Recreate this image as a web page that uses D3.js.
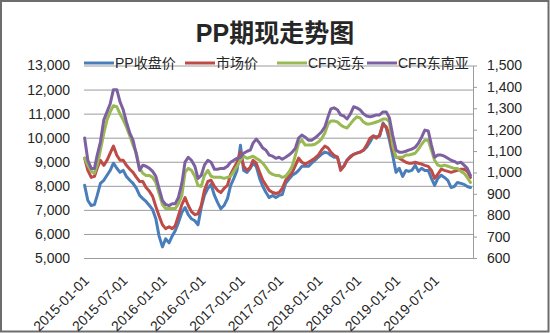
<!DOCTYPE html>
<html>
<head>
<meta charset="utf-8">
<script src="https://cdn.jsdelivr.net/npm/d3@7"></script>
<style>
  body { margin: 0; background: #fff; }
  svg { display: block; }
  text { font-family: "Liberation Sans", "Noto Sans CJK SC", sans-serif; fill: #262626; }
</style>
</head>
<body>
<svg id="chart" width="550" height="333"></svg>
<script>
// ---- data ----
const chartTitle = "PP期现走势图";
const seriesNames = ["PP收盘价", "市场价", "CFR远东", "CFR东南亚"];
const leftTicks = [5000, 6000, 7000, 8000, 9000, 10000, 11000, 12000, 13000];
const rightTicks = [600, 700, 800, 900, 1000, 1100, 1200, 1300, 1400, 1500];
const dateTicks = ["2015-01-01", "2015-07-01", "2016-01-01", "2016-07-01", "2017-01-01",
                   "2017-07-01", "2018-01-01", "2018-07-01", "2019-01-01", "2019-07-01"];
// two readings per month, on the 4th and the 19th, Jan 2015 - Dec 2019
const sampleDays = [4, 19];

// PP收盘价 (元/吨, left axis)
const ppClose = [
  8020, 7390, 7180, 7220, 7600, 8100, 8230, 8440, 8640, 8940,
  8730, 8560, 8640, 8390, 8230, 8100, 7890, 7600, 7470, 7350,
  7180, 7010, 6630, 5920, 5460, 5800, 5630, 5920, 6130, 6470,
  6890, 7100, 6800, 6630, 6550, 6380, 7100, 7600, 7890, 8060,
  7600, 7300, 7050, 7180, 7470, 8020, 8310, 8640, 9690, 8640,
  8560, 8730, 8940, 8810, 8310, 7970, 7720, 7510, 7600, 7510,
  7600, 7640, 8100, 8270, 8440, 8520, 8640, 8810, 8810, 8810,
  8940, 9060, 9190, 9310, 9400, 9360, 9270, 9190, 9190, 8730,
  8810, 9060, 9230, 9310, 9360, 9400, 9480, 9610, 9820, 10070,
  10030, 10070, 10610, 10400, 9900, 9270, 8560, 8730, 8390, 8640,
  8600, 8640, 8850, 8600, 8730, 8640, 8640, 8310, 8020, 8310,
  8440, 8350, 8230, 7930, 7970, 8140, 8100, 8060, 7970, 7930
];
// 市场价 (元/吨, left axis)
const marketPrice = [
  9150, 8640, 8350, 8390, 8730, 9060, 8850, 9060, 9360, 9650,
  9270, 9060, 9060, 8850, 8690, 8560, 8350, 8180, 8180, 7930,
  7770, 7560, 7140, 6760, 6380, 6220, 6300, 6220, 6340, 6760,
  7220, 7510, 7180, 6930, 6800, 6840, 7180, 7810, 8180, 8230,
  7970, 7810, 7720, 7890, 8020, 8480, 8730, 8980, 9400, 8810,
  8640, 8770, 9060, 8940, 8560, 8230, 8020, 7810, 7720, 7680,
  7720, 7890, 8230, 8390, 8560, 8850, 9150, 8980, 8900, 8980,
  9060, 9150, 9270, 9480, 9650, 9570, 9400, 9270, 9190, 8640,
  8810, 9060, 9190, 9310, 9360, 9400, 9480, 9690, 9980, 10070,
  9980, 10110, 10570, 10450, 10110, 9480, 9190, 9150, 9060, 8980,
  8940, 8940, 8980, 8940, 8900, 8850, 8810, 8640, 8310, 8480,
  8690, 8640, 8600, 8560, 8600, 8640, 8690, 8690, 8600, 8350
];
// CFR远东 (美元/吨, right axis)
const cfrFarEast = [
  1066, 1034, 1005, 996, 1034, 1104, 1184, 1246, 1283, 1312,
  1307, 1274, 1246, 1213, 1170, 1128, 1090, 1019, 996, 986,
  986, 977, 953, 902, 850, 831, 831, 831, 831, 854,
  892, 1001, 1019, 1010, 982, 939, 935, 986, 1010, 982,
  977, 977, 977, 972, 977, 982, 1005, 1029, 1057, 1076,
  1066, 1071, 1076, 1066, 1057, 1043, 1024, 1001, 991, 986,
  986, 977, 982, 1001, 1029, 1081, 1137, 1151, 1128, 1128,
  1128, 1132, 1142, 1156, 1184, 1227, 1241, 1241, 1236, 1222,
  1213, 1208, 1227, 1246, 1260, 1255, 1236, 1227, 1227, 1231,
  1236, 1241, 1250, 1250, 1236, 1128, 1071, 1071, 1071, 1081,
  1081, 1085, 1090, 1109, 1132, 1151, 1151, 1104, 1057, 1034,
  1029, 1034, 1029, 1024, 1019, 1019, 1005, 996, 977, 953
];
// CFR东南亚 (美元/吨, right axis)
const cfrSEAsia = [
  1161, 1057, 1019, 1019, 1081, 1142, 1246, 1283, 1321, 1387,
  1387, 1330, 1293, 1236, 1184, 1151, 1081, 1010, 1034, 1029,
  1019, 1005, 982, 925, 869, 850, 845, 854, 854, 883,
  949, 1048, 1071, 1057, 1029, 972, 986, 1034, 1057, 1048,
  1015, 1015, 1019, 1019, 1029, 1048, 1057, 1066, 1071, 1090,
  1099, 1104, 1137, 1156, 1137, 1114, 1104, 1081, 1076, 1066,
  1071, 1062, 1071, 1081, 1095, 1114, 1161, 1175, 1165, 1151,
  1151, 1161, 1175, 1189, 1213, 1260, 1297, 1302, 1293, 1269,
  1264, 1250, 1274, 1307, 1302, 1293, 1274, 1264, 1260, 1264,
  1269, 1269, 1283, 1283, 1255, 1175, 1104, 1095, 1095, 1099,
  1104, 1109, 1118, 1137, 1165, 1198, 1194, 1128, 1071, 1081,
  1081, 1076, 1066, 1057, 1052, 1043, 1048, 1034, 1019, 986
];

const colors = ["#4a7ebb", "#be4b48", "#98b954", "#7d60a0"];

// ---- build dates ----
const dates = [];
d3.timeMonth.range(new Date(2015, 0, 1), new Date(2020, 0, 1)).forEach(m => {
  sampleDays.forEach(d => dates.push(new Date(m.getFullYear(), m.getMonth(), d)));
});
const parse = d3.timeParse("%Y-%m-%d");

// ---- layout ----
const W = 550, H = 333;
const plot = { left: 84, right: 473, top: 65.5, bottom: 258 };
const svg = d3.select("#chart");

// chart frame
svg.append("rect")
  .attr("x", 1).attr("y", 1).attr("width", W - 2.5).attr("height", H - 2.5)
  .attr("fill", "#fff").attr("stroke", "#6d6d6d").attr("stroke-width", 2);

const x = d3.scaleTime()
  .domain([parse("2015-01-01"), parse("2019-12-31")])
  .range([plot.left, plot.right]);
const yL = d3.scaleLinear().domain([5000, 13000]).range([plot.bottom, plot.top]);
const yR = d3.scaleLinear().domain([600, 1500]).range([plot.bottom, plot.top]);

// left axis with gridlines
const gL = svg.append("g")
  .attr("transform", `translate(${plot.left},0)`)
  .call(d3.axisLeft(yL).tickValues(leftTicks).tickFormat(d3.format(","))
    .tickSize(-(plot.right - plot.left)).tickPadding(14));
gL.select(".domain").remove();
gL.selectAll(".tick line").attr("stroke", "#9c9c9c").attr("stroke-width", 1);
gL.selectAll(".tick text").style("font-size", "14px").attr("fill", "#262626");

// right axis
const gR = svg.append("g")
  .attr("transform", `translate(${plot.right},0)`)
  .call(d3.axisRight(yR).tickValues(rightTicks).tickFormat(d3.format(","))
    .tickSize(4).tickSizeOuter(0).tickPadding(10));
gR.select(".domain").attr("stroke", "#9c9c9c");
gR.selectAll(".tick line").attr("stroke", "#9c9c9c");
gR.selectAll(".tick text").style("font-size", "14px").attr("fill", "#262626");

// bottom axis labels
const gB = svg.append("g")
  .attr("transform", `translate(0,${plot.bottom})`)
  .call(d3.axisBottom(x).tickValues(dateTicks.map(parse))
    .tickFormat(d3.timeFormat("%Y-%m-%d")).tickSize(0));
gB.select(".domain").attr("stroke", "#9c9c9c");
gB.selectAll(".tick text")
  .attr("x", 0).attr("y", 0).attr("dy", "0.35em")
  .attr("transform", "translate(2,20) rotate(-45)")
  .style("text-anchor", "end").style("font-size", "14px").attr("fill", "#262626");

// series
const series = [
  { values: ppClose, y: yL },
  { values: marketPrice, y: yL },
  { values: cfrFarEast, y: yR },
  { values: cfrSEAsia, y: yR }
];
series.forEach((s, i) => {
  const line = d3.line().x((d, j) => x(dates[j])).y(d => s.y(d));
  svg.append("path")
    .datum(s.values)
    .attr("d", line)
    .attr("fill", "none")
    .attr("stroke", colors[i])
    .attr("stroke-width", 3)
    .attr("stroke-linejoin", "round")
    .attr("stroke-linecap", "round");
});

// title
svg.append("text")
  .attr("x", 275).attr("y", 42)
  .attr("text-anchor", "middle")
  .style("font-size", "25px").style("font-weight", "bold")
  .attr("fill", "#000")
  .text(chartTitle);

// legend
const legendX = [84, 185, 277, 367];
const legendY = 63;
seriesNames.forEach((name, i) => {
  const g = svg.append("g").attr("transform", `translate(${legendX[i]},${legendY})`);
  g.append("line").attr("x1", 0).attr("x2", 30).attr("y1", 0).attr("y2", 0)
    .attr("stroke", colors[i]).attr("stroke-width", 3);
  g.append("text").attr("x", 31).attr("y", 0).attr("dy", "0.36em")
    .style("font-size", "14px").attr("fill", "#262626").text(name);
});
</script>
</body>
</html>
